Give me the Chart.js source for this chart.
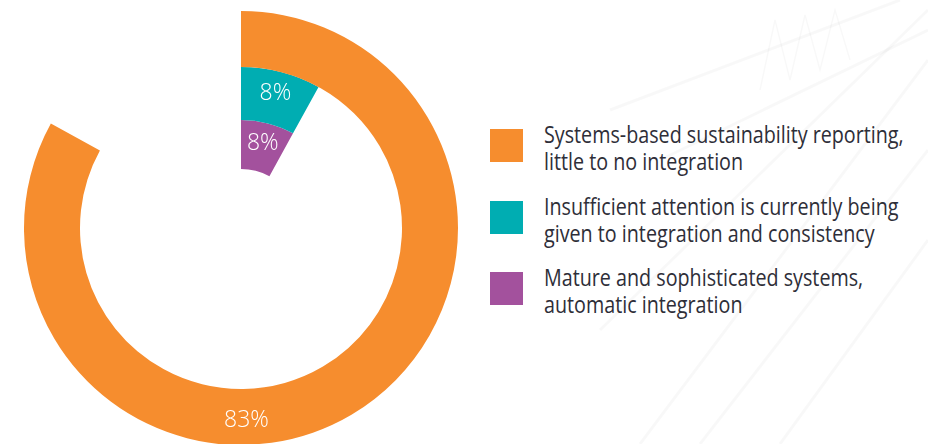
<!DOCTYPE html>
<html>
<head>
<meta charset="utf-8">
<script src="https://cdn.jsdelivr.net/npm/chart.js@4/dist/chart.umd.min.js"></script>
<style>
  html, body { margin: 0; padding: 0; background: #fff; }
  #page { position: relative; width: 928px; height: 444px; overflow: hidden; background: #fff; }
  #backdrop { position: absolute; left: 0; top: 0; }
  #ring-box { position: absolute; left: 24px; top: 11px; width: 434px; height: 434px; }
  .key { position: absolute; left: 490px; }
  .key .swatch { position: absolute; left: 0; top: 0; width: 33px; height: 33px; }
  .key .text {
    position: absolute; left: 54px; top: -8px; white-space: nowrap;
    font-family: "Open Sans", sans-serif;
    font-size: 23px; line-height: 27px; color: #2e2e38;
    transform: scaleX(0.857); transform-origin: 0 0;
  }
</style>
</head>
<body>
<div id="page">
  <svg id="backdrop" width="928" height="444">
    <g stroke="#000" stroke-opacity="0.028" stroke-width="3" fill="none">
      <line x1="640" y1="444" x2="928" y2="60"/>
      <line x1="700" y1="444" x2="928" y2="150"/>
      <line x1="780" y1="444" x2="928" y2="240"/>
      <line x1="600" y1="330" x2="928" y2="10"/>
      <line x1="610" y1="110" x2="900" y2="0"/>
      <line x1="660" y1="160" x2="928" y2="30"/>
      <polyline stroke-width="1.5" points="760,90 775,20 790,80 805,15 820,70 835,10 850,60"/>
    </g>
  </svg>
  <div id="ring-box"><canvas id="rings"></canvas></div>
  <div id="keys"></div>
</div>
<script>
// survey answers, one ring per answer
const categories = [
  ["Systems-based sustainability reporting,", "little to no integration"],
  ["Insufficient attention is currently being", "given to integration and consistency"],
  ["Mature and sophisticated systems,", "automatic integration"]
];
const shares = [83, 8, 8];
const colours = ["#F68D2E", "#00ADB2", "#A3519D"];

// ring thickness ratios, outermost first
const ringWeights = [56, 53, 49];
// where along each arc the % label sits (0 = start, 1 = end)
const labelAlong = [0.597, 0.5, 0.5];

const datasets = shares.map((v, i) => ({
  label: categories[i].join(" "),
  data: [v, 100 - v],
  backgroundColor: [colours[i], "rgba(0,0,0,0)"],
  borderWidth: 0,
  hoverOffset: 0,
  weight: ringWeights[i]
}));

const percentLabels = {
  id: "percentLabels",
  afterDatasetsDraw(chart) {
    const ctx = chart.ctx;
    ctx.save();
    ctx.fillStyle = "#fff";
    ctx.font = '300 23px "Open Sans", sans-serif';
    ctx.textAlign = "center";
    ctx.textBaseline = "middle";
    chart.data.datasets.forEach((ds, i) => {
      const arc = chart.getDatasetMeta(i).data[0];
      const p = arc.getProps(["x", "y", "startAngle", "endAngle", "innerRadius", "outerRadius"], true);
      const a = p.startAngle + (p.endAngle - p.startAngle) * labelAlong[i];
      const r = (p.innerRadius + p.outerRadius) / 2 + 4;
      ctx.fillText(ds.data[0] + "%", p.x + Math.cos(a) * r, p.y + Math.sin(a) * r);
    });
    ctx.restore();
  }
};

const config = {
  type: "doughnut",
  data: { labels: ["share", "rest"], datasets: datasets },
  options: {
    responsive: true,
    maintainAspectRatio: false,
    animation: false,
    events: [],
    cutout: 59,
    layout: { padding: 0 },
    plugins: {
      legend: { display: false },
      tooltip: { enabled: false }
    }
  },
  plugins: [percentLabels]
};

new Chart(document.getElementById("rings"), config);

// key on the right
const keys = document.getElementById("keys");
categories.forEach((lines, i) => {
  const item = document.createElement("div");
  item.className = "key";
  item.style.top = (129 + i * 71.5) + "px";
  item.innerHTML = '<div class="swatch" style="background:' + colours[i] + '"></div>' +
    '<div class="text">' + lines.join("<br>") + "</div>";
  keys.appendChild(item);
});
</script>
</body>
</html>
